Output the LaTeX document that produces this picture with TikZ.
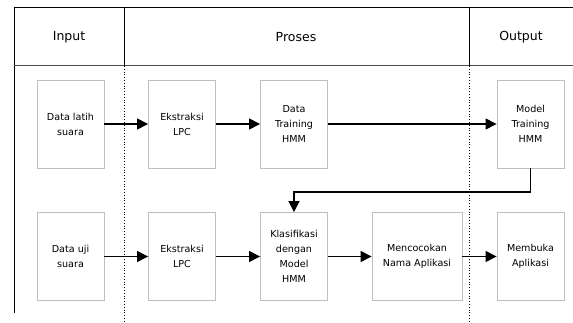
\documentclass[tikz,border=0pt]{standalone}
\usepackage{fontspec}
\setmainfont{DejaVu Sans}
\usetikzlibrary{arrows.meta}

\tikzset{
	proc/.style = {draw = black!25, line width = .9pt, minimum width = 67pt, minimum height = 88pt,
		align = center, inner sep = 2pt, font = \fontsize{9.6}{15}\selectfont},
	head/.style = {font = \fontsize{12.5}{14}\selectfont},
	flow/.style = {line width = 1.4pt, -{Triangle[length = 11pt, width = 11pt]}},
	lane/.style = {line width = .8pt, dotted}
}

\begin{document}
\begin{tikzpicture}[x = 1pt, y = -1pt]
	\useasboundingbox (0,0) rectangle (573,323);
	% frame and header
	\draw [line width = .8pt] (573,7) -- (14,7) -- (14,313);
	\draw [line width = 1pt, black!70] (14,66) -- (573,66);
	\draw [line width = .8pt] (124,7) -- (124,66);
	\draw [line width = .8pt] (469,7) -- (469,66);
	\draw [lane] (124,66) -- (124,323);
	\draw [lane] (469,66) -- (469,323);
	\node [head] (input) at (69,37) {Input};
	\node [head] (proses) at (296,37) {Proses};
	\node [head] (output) at (521,37) {Output};
	% training row
	\node [proc] (latih) at (70.5,124) {Data latih\\suara};
	\node [proc] (lpc1) at (182,124) {Ekstraksi\\LPC};
	\node [proc] (datatrain) at (294,124) {Data\\Training\\HMM};
	\node [proc] (model) at (530.5,124) {Model\\Training\\HMM};
	% testing row
	\node [proc] (uji) at (70.5,256.5) {Data uji\\suara};
	\node [proc] (lpc2) at (182,256.5) {Ekstraksi\\LPC};
	\node [proc] (klas) at (294,256.5) {Klasifikasi\\dengan\\Model\\HMM};
	\node [proc, minimum width = 90pt] (cocok) at (417,256.5) {Mencocokan\\Nama Aplikasi};
	\node [proc] (buka) at (530.5,256.5) {Membuka\\Aplikasi};
	\coordinate (bend) at (0,192);
	\draw [flow] (latih) -- (lpc1);
	\draw [flow] (lpc1) -- (datatrain);
	\draw [flow] (datatrain) -- (model);
	\draw [flow] (uji) -- (lpc2);
	\draw [flow] (lpc2) -- (klas);
	\draw [flow] (klas) -- (cocok);
	\draw [flow] (cocok) -- (buka);
	\draw [flow] (model.south) |- (bend -| klas.north) -- (klas.north);
\end{tikzpicture}
\end{document}
